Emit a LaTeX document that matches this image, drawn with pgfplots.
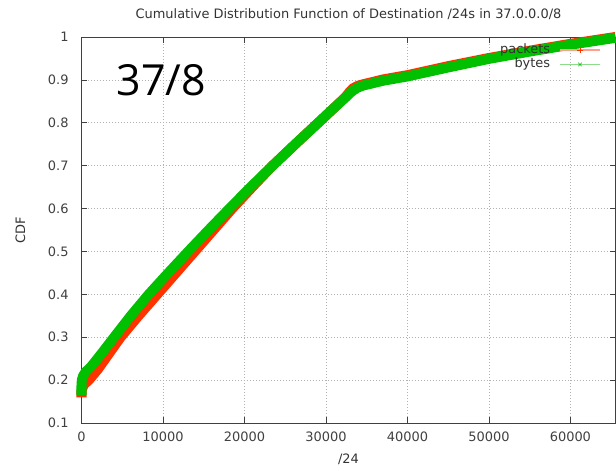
\documentclass[border=0pt]{standalone}
\usepackage{fontspec}
\setmainfont{DejaVu Sans}
\newfontfamily\bigfont{Open Sans}
\usepackage{pgfplots}
\pgfplotsset{compat=1.18}
\definecolor{gpred}{RGB}{255,51,0}
\definecolor{gpgreen}{RGB}{0,192,0}
\definecolor{lightred}{RGB}{255,160,140}
\definecolor{lightgreen}{RGB}{140,220,140}
\pgfplotsset{
  layers/mylayers/.define layer set={axis background,axis grid,axis ticks,axis lines,axis tick labels,axis descriptions,pre main,main,axis foreground}{},
}
\begin{document}
\begin{tikzpicture}
\begin{axis}[
  set layers=mylayers,
  at={(0,0)}, anchor=south west,
  scale only axis, width=534bp, height=386bp,
  xmin=0, xmax=65536, ymin=0.1, ymax=1,
  xtick={0,10000,20000,30000,40000,50000,60000},
  ytick={0.1,0.2,0.3,0.4,0.5,0.6,0.7,0.8,0.9,1},
  scaled x ticks=false,
  /pgf/number format/1000 sep={},
  /pgf/number format/assume math mode=true,
  tick label style={font=\fontsize{13}{15}\selectfont, text=black!75},
  xticklabel style={yshift=-5.5bp},
  yticklabel style={xshift=-9.4bp},
  axis line style={black!75, line width=0.7bp},
  major tick style={black!75, line width=0.7bp},
  major tick length=6bp,
  tick align=inside,
  grid=major,
  major grid style={black!30, line width=0.6bp, dash pattern=on 1bp off 2bp},
  title={Cumulative Distribution Function of Destination /24s in 37.0.0.0/8},
  title style={at={(axis description cs:0.5,1.0324)}, anchor=base, font=\fontsize{13}{15}\selectfont, text=black!80},
  xlabel={/24}, ylabel={CDF},
  xlabel style={at={(axis description cs:0.5,-0.1049)}, anchor=base, font=\fontsize{13}{15}\selectfont, text=black!80},
  ylabel style={at={(axis description cs:-0.1142,0.5)}, anchor=center, font=\fontsize{13}{15}\selectfont, text=black!80},
  clip=false,
  legend style={draw=none, fill=none, at={(axis description cs:1,1)}, anchor=north east, xshift=-14.5bp, yshift=-5.5bp,
    inner sep=0pt, row sep=0bp, column sep=8bp, font=\fontsize{13}{15}\selectfont, text=black!80,
    nodes={inner sep=1bp, text height=9.5bp, text depth=3bp}},
  legend plot pos=right,
  legend cell align=right,
  legend image code/.code={\draw[mark repeat=2,mark phase=2,#1] plot coordinates {(0bp,0bp) (20bp,0bp) (40bp,0bp)};},
]
\addplot[gpred, line width=10bp, line join=round, forget plot] coordinates {
(0,0.160) (0,0.176) (300,0.190) (900,0.200) (2000,0.225) (3300,0.260)
(4800,0.300) (7000,0.350) (9300,0.400) (11600,0.450) (13900,0.500)
(16200,0.550) (18500,0.600) (20950,0.650) (23450,0.700) (26230,0.750) (29050,0.800)
(31300,0.840) (32400,0.860) (32900,0.872) (33300,0.880) (33900,0.886) (34600,0.890)
(35500,0.894) (37000,0.901) (40000,0.911) (45000,0.932) (50000,0.951) (55000,0.968)
(60000,0.984) (65536,1.000)
};
\addplot[gpgreen, line width=10bp, line join=round, forget plot] coordinates {
(0,0.165) (0,0.188) (40,0.200) (200,0.210) (500,0.219) (1200,0.232) (2500,0.263)
(4000,0.300) (6050,0.350) (8250,0.400) (10650,0.450) (13100,0.500)
(15600,0.550) (18150,0.600) (20750,0.650) (23450,0.700) (26230,0.750) (29050,0.800)
(31300,0.840) (32450,0.860) (33000,0.870) (33400,0.876) (33900,0.882) (34600,0.887)
(35500,0.891) (37000,0.898) (40000,0.908) (45000,0.929) (50000,0.949) (55000,0.966)
(60000,0.982) (65536,0.998)
};
\addlegendimage{lightred, line width=1.6bp, mark=+, mark size=3bp, mark options={draw=gpred, line width=0.6bp}}
\addlegendentry{packets}
\addlegendimage{lightgreen, line width=1.6bp, mark=x, mark size=2.5bp, mark options={draw=gpgreen, line width=0.6bp}}
\addlegendentry{bytes}
\node[anchor=base west, inner sep=0pt, font=\bigfont\fontsize{43}{43}\selectfont] at (axis cs:4300,0.864) {37/8};
\end{axis}
\pgfresetboundingbox
\path[use as bounding box] (-81.5bp,-48bp) rectangle (534.5bp,423bp);
\end{tikzpicture}
\end{document}
